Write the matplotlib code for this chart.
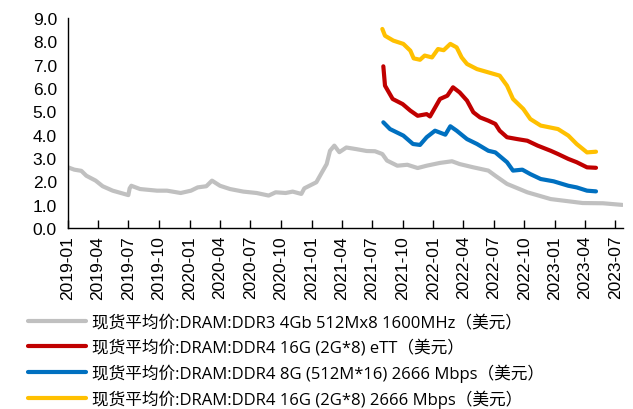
import matplotlib
matplotlib.use("Agg")
import matplotlib.pyplot as plt
import matplotlib.dates as mdates
import pandas as pd

plt.rcParams['font.family'] = ['Liberation Sans', 'Noto Sans CJK SC', 'DejaVu Sans']

# DDR3 4Gb spot price (USD)
ddr3_dates = ['2019-01-01', '2019-01-20', '2019-02-10', '2019-02-25', '2019-03-25', '2019-04-15',
              '2019-05-15', '2019-07-01', '2019-07-05', '2019-07-10', '2019-08-05', '2019-09-25',
              '2019-10-25', '2019-12-05', '2020-01-05', '2020-01-25', '2020-02-20', '2020-03-08',
              '2020-04-01', '2020-05-01', '2020-06-10', '2020-07-20', '2020-08-25', '2020-09-15',
              '2020-10-15', '2020-11-05', '2020-12-01', '2020-12-10', '2021-01-15', '2021-02-01',
              '2021-02-15', '2021-02-25', '2021-03-10', '2021-03-25', '2021-04-15', '2021-05-15',
              '2021-06-15', '2021-07-10', '2021-08-01', '2021-08-15', '2021-09-15', '2021-10-15',
              '2021-11-15', '2021-12-12', '2022-01-21', '2022-02-26', '2022-03-21', '2022-05-01',
              '2022-06-15', '2022-07-06', '2022-08-10', '2022-10-10', '2022-12-19', '2023-03-25',
              '2023-05-25', '2023-07-22']
ddr3_vals = [2.6, 2.5, 2.45, 2.24, 2.03, 1.79,
             1.6, 1.41, 1.70, 1.81, 1.67, 1.6,
             1.6, 1.5, 1.6, 1.74, 1.79, 2.03,
             1.81, 1.67, 1.56, 1.5, 1.39, 1.53,
             1.5, 1.56, 1.46, 1.7, 1.96, 2.39,
             2.74, 3.31, 3.53, 3.25, 3.45, 3.38,
             3.3, 3.29, 3.17, 2.89, 2.67, 2.71,
             2.57, 2.67, 2.79, 2.86, 2.74, 2.6,
             2.46, 2.24, 1.89, 1.53, 1.24, 1.07,
             1.06, 0.99]

# DDR4 16G eTT
ett_dates = ['2021-08-04', '2021-08-09', '2021-09-01', '2021-10-01', '2021-10-24', '2021-11-15',
             '2021-12-12', '2021-12-22', '2022-01-21', '2022-02-12', '2022-03-01', '2022-03-21',
             '2022-04-12', '2022-05-01', '2022-05-21', '2022-06-15', '2022-07-06', '2022-07-19',
             '2022-08-10', '2022-09-10', '2022-10-10', '2022-11-10', '2022-12-19', '2023-01-10',
             '2023-02-10', '2023-03-07', '2023-04-07', '2023-05-04']
ett_vals = [6.93, 6.1, 5.53, 5.31, 5.03, 4.81,
            4.88, 4.78, 5.53, 5.67, 6.03, 5.81,
            5.46, 4.96, 4.74, 4.6, 4.46, 4.17,
            3.89, 3.81, 3.74, 3.53, 3.31, 3.17,
            2.96, 2.82, 2.6, 2.58]

# DDR4 8G 2666
g8_dates = ['2021-08-04', '2021-08-24', '2021-10-03', '2021-11-01', '2021-11-22', '2021-12-12',
            '2022-01-06', '2022-02-06', '2022-02-21', '2022-03-12', '2022-04-12', '2022-05-12',
            '2022-06-15', '2022-07-06', '2022-08-10', '2022-08-28', '2022-09-25', '2022-10-19',
            '2022-11-19', '2022-12-28', '2023-02-10', '2023-03-07', '2023-04-07', '2023-05-04']
g8_vals = [4.53, 4.24, 3.96, 3.6, 3.56, 3.89,
           4.17, 4.0, 4.36, 4.17, 3.81, 3.6,
           3.31, 3.24, 2.82, 2.46, 2.5, 2.31,
           2.1, 2.0, 1.81, 1.74, 1.6, 1.57]

# DDR4 16G 2666
g16_dates = ['2021-08-01', '2021-08-09', '2021-09-03', '2021-10-03', '2021-10-24', '2021-11-03',
             '2021-11-22', '2021-12-06', '2021-12-28', '2022-01-15', '2022-02-01', '2022-02-21',
             '2022-03-12', '2022-03-27', '2022-04-12', '2022-05-12', '2022-06-15', '2022-07-19',
             '2022-08-10', '2022-08-28', '2022-09-28', '2022-10-19', '2022-11-19', '2023-01-10',
             '2023-02-10', '2023-03-07', '2023-04-07', '2023-05-04']
g16_vals = [8.53, 8.24, 8.03, 7.89, 7.6, 7.27,
            7.21, 7.39, 7.31, 7.67, 7.62, 7.89,
            7.74, 7.31, 7.03, 6.81, 6.67, 6.53,
            6.1, 5.53, 5.1, 4.67, 4.39, 4.24,
            3.96, 3.6, 3.24, 3.27]

labels = ['现货平均价:DRAM:DDR3 4Gb 512Mx8 1600MHz（美元）',
          '现货平均价:DRAM:DDR4 16G (2G*8) eTT（美元）',
          '现货平均价:DRAM:DDR4 8G (512M*16) 2666 Mbps（美元）',
          '现货平均价:DRAM:DDR4 16G (2G*8) 2666 Mbps（美元）']
colors = ['#C0C0C0', '#C00000', '#0070C0', '#FFC000']

fig = plt.figure(figsize=(6.33, 4.10), dpi=100)
ax = fig.add_axes([68/633, 1 - 229/410, 555/633, 210/410])

series = [(ddr3_dates, ddr3_vals), (ett_dates, ett_vals), (g8_dates, g8_vals), (g16_dates, g16_vals)]
for (d, v), c, lab in zip(series, colors, labels):
    ax.plot(pd.to_datetime(d), v, color=c, lw=3, label=lab, solid_capstyle='round')

ax.set_ylim(0, 9)
ax.set_yticks([0, 1, 2, 3, 4, 5, 6, 7, 8, 9])
ax.yaxis.set_major_formatter(matplotlib.ticker.FormatStrFormatter('%.1f'))
ax.set_xlim(pd.Timestamp('2019-01-01'), pd.Timestamp('2023-07-24'))
ax.xaxis.set_major_locator(mdates.MonthLocator(bymonth=[1, 4, 7, 10]))
ax.xaxis.set_major_formatter(mdates.DateFormatter('%Y-%m'))
ax.tick_params(axis='x', direction='in', length=6, width=1, labelsize=12.5, rotation=90, pad=5)
ax.tick_params(axis='y', length=0, labelsize=12.5, pad=8)
for s in ['top', 'right']:
    ax.spines[s].set_visible(False)
for s in ['left', 'bottom']:
    ax.spines[s].set_linewidth(1)

fig.legend(loc='upper left', bbox_to_anchor=(28/633, 1 - 316/410), bbox_transform=fig.transFigure,
           frameon=False, handlelength=3.45, handletextpad=0.37,
           labelspacing=0.47, borderpad=0, borderaxespad=0,
           prop={'family': ['Open Sans', 'Noto Sans CJK SC'], 'size': 12})

fig.savefig('out.png', dpi=100)
